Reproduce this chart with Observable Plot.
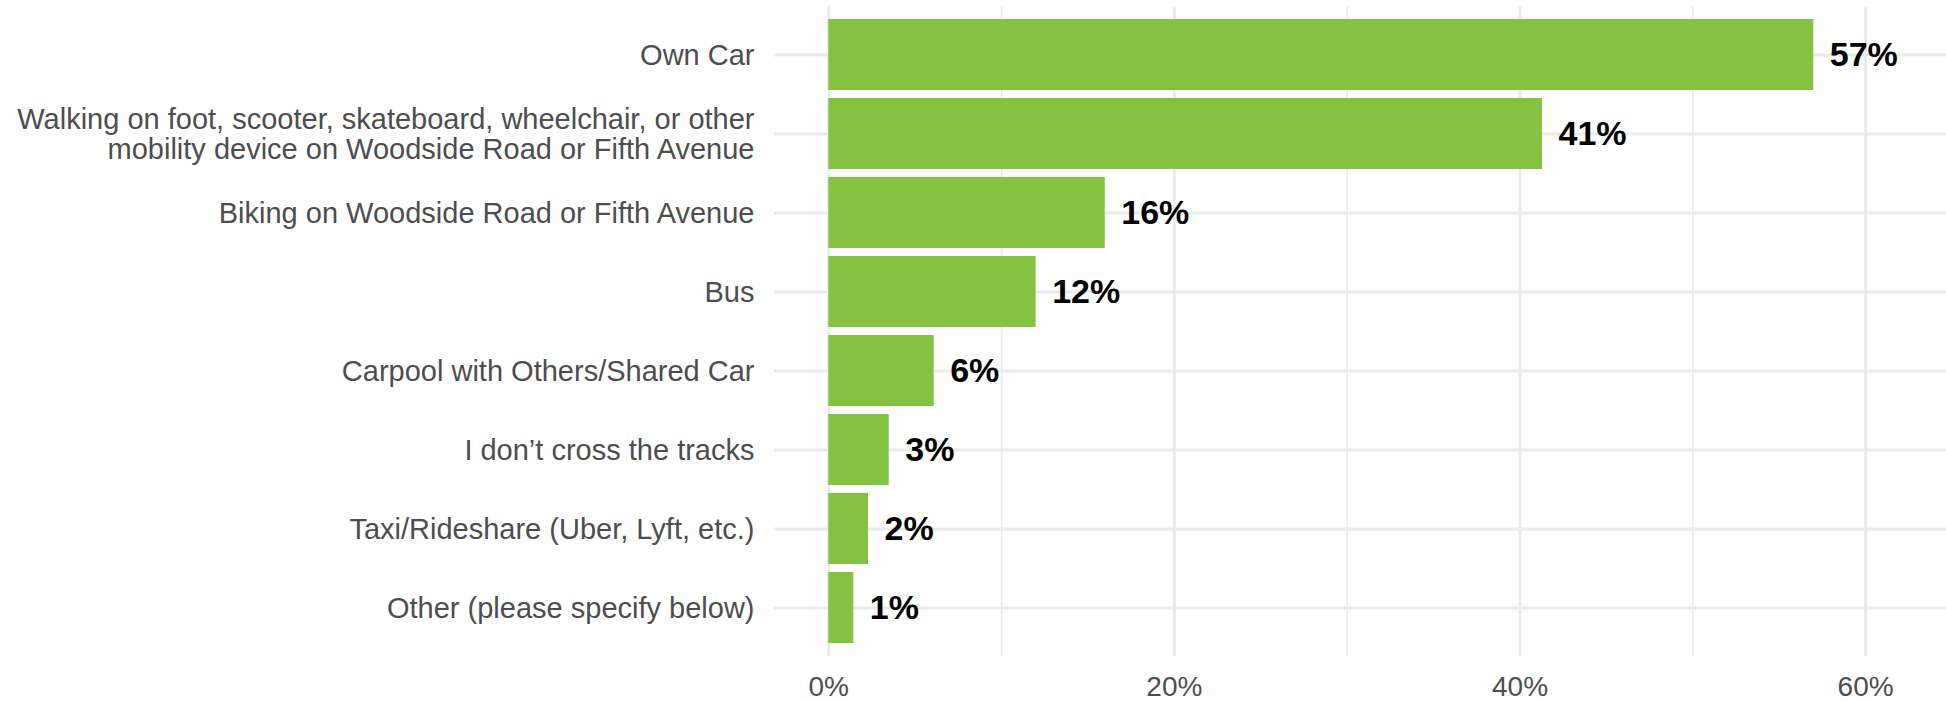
<!DOCTYPE html>
<html>
<head>
<meta charset="utf-8">
<script src="https://cdn.jsdelivr.net/npm/d3@7"></script>
<script src="https://cdn.jsdelivr.net/npm/@observablehq/plot@0.6"></script>
<style>
  html, body { margin: 0; padding: 0; background: #fff; }
</style>
</head>
<body>
<div id="chart"></div>
<script>
const categories = [
  "Own Car",
  "Walking on foot, scooter, skateboard, wheelchair, or other\nmobility device on Woodside Road or Fifth Avenue",
  "Biking on Woodside Road or Fifth Avenue",
  "Bus",
  "Carpool with Others/Shared Car",
  "I don\u2019t cross the tracks",
  "Taxi/Rideshare (Uber, Lyft, etc.)",
  "Other (please specify below)"
];
const values = [57.0, 41.3, 16.0, 12.0, 6.1, 3.5, 2.3, 1.45];
const labels = ["57%", "41%", "16%", "12%", "6%", "3%", "2%", "1%"];
const majorTicks = [0, 20, 40, 60];
const minorTicks = [10, 30, 50];

const data = categories.map((c, i) => ({category: c, value: values[i], label: labels[i]}));

const chart = Plot.plot({
  width: 1946,
  height: 701,
  marginLeft: 774,
  marginRight: 0,
  marginTop: 6.5,
  marginBottom: 45,
  style: {
    fontFamily: "'Liberation Sans', Arial, Helvetica, sans-serif",
    fontSize: "28px",
    color: "#4d4d4d",
    background: "#ffffff",
    overflow: "visible"
  },
  x: {domain: [-3.14, 64.68]},
  y: {domain: categories, paddingInner: 0.1, paddingOuter: 0.15},
  marks: [
    Plot.gridX(minorTicks, {stroke: "#ebebeb", strokeOpacity: 1, strokeWidth: 1.5}),
    Plot.gridX(majorTicks, {stroke: "#ebebeb", strokeOpacity: 1, strokeWidth: 2.8}),
    Plot.gridY({stroke: "#ebebeb", strokeOpacity: 1, strokeWidth: 2.8}),
    Plot.barX(data, {x: "value", y: "category", fill: "#84c341"}),
    Plot.text(data, {
      x: "value", y: "category", text: "label",
      dx: 16, textAnchor: "start", fontWeight: "bold", fontSize: 34, fill: "#000000"
    }),
    Plot.axisY({tickSize: 0, tickPadding: 20, label: null, fontSize: 29, lineHeight: 1.03, fill: "#4d4d4d"}),
    Plot.axisX(majorTicks, {tickSize: 0, tickPadding: 20, label: null, tickFormat: d => d + "%", fill: "#4d4d4d"})
  ]
});
document.getElementById("chart").appendChild(chart);
</script>
</body>
</html>
